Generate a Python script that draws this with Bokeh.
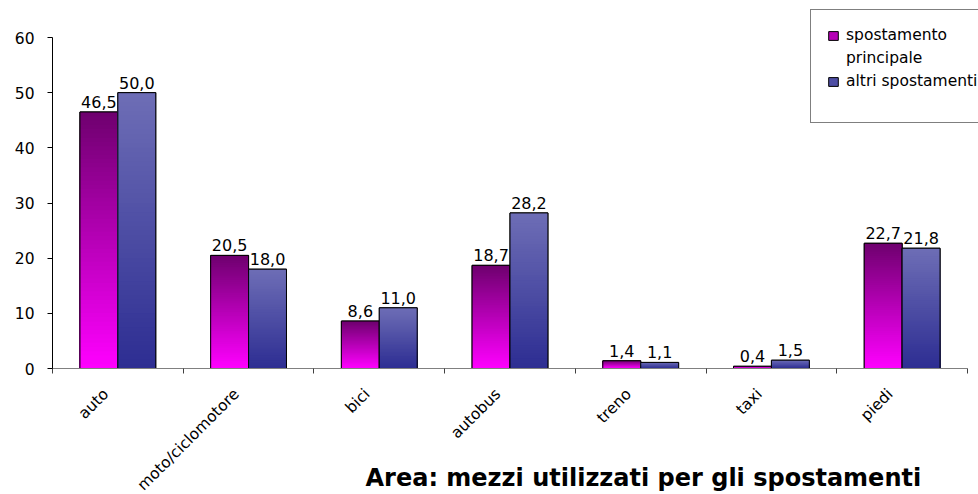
import math
from bokeh.plotting import figure
from bokeh.models import (ColumnDataSource, Range1d, FixedTicker, Legend, LegendItem, Label)
from bokeh.core.properties import value
from bokeh.embed import file_html
from bokeh.resources import INLINE

categories = ["auto", "moto/ciclomotore", "bici", "autobus", "treno", "taxi", "piedi"]
principale = [46.5, 20.5, 8.6, 18.7, 1.4, 0.4, 22.7]
altri = [50.0, 18.0, 11.0, 28.2, 1.1, 1.5, 21.8]
legend_lines = ["spostamento", "principale", "altri spostamenti"]
y_ticks = [0, 10, 20, 30, 40, 50, 60]
title_text = "Area: mezzi utilizzati per gli spostamenti"

FONT = "DejaVu Sans"
W, H = 978, 494
# pixel layout of the plotting area (canvas pixels)
AX_LEFT, AX_RIGHT, AX_TOP, AX_BOTTOM = 52, 967, 37, 368
N_CAT = len(categories)
Y_MAX = 60
BAR_W = 0.29
N_SLICES = 60
LABEL_SHIFT_PX = 12

sx = (AX_RIGHT - AX_LEFT) / N_CAT
sy = (AX_BOTTOM - AX_TOP) / Y_MAX
x_range = Range1d(-AX_LEFT / sx, (W - AX_LEFT) / sx)
y_range = Range1d(-(H - AX_BOTTOM) / sy, AX_BOTTOM / sy)

# gradient colours (top, bottom)
mag_top, mag_bot = (110, 0, 110), (255, 0, 255)
blu_top, blu_bot = (110, 110, 182), (45, 45, 146)


def hexcol(c):
    return "#%02x%02x%02x" % tuple(int(round(v)) for v in c)


def lerp(a, b, t):
    return tuple(a[i] + (b[i] - a[i]) * t for i in range(3))


p = figure(width=W, height=H, output_backend="svg", toolbar_location=None,
           x_range=x_range, y_range=y_range,
           min_border_left=0, min_border_right=0, min_border_top=0, min_border_bottom=0)
p.outline_line_color = None
p.xgrid.visible = False
p.ygrid.visible = False
p.background_fill_color = "white"
p.border_fill_color = "white"


def gradient_bars(vals, side, top_c, bot_c):
    lefts = [(i + 0.5 - BAR_W) if side < 0 else (i + 0.5) for i in range(len(vals))]
    rights = [x + BAR_W for x in lefts]
    # base bar (hidden under gradient, used by the legend)
    base = p.quad(left=lefts, right=rights, top=vals, bottom=[0] * len(vals),
                  fill_color=hexcol(lerp(bot_c, top_c, 0.5)), line_color="black", line_width=1)
    L, R, T, B, C = [], [], [], [], []
    for l, r, v in zip(lefts, rights, vals):
        for k in range(N_SLICES):
            t = (N_SLICES - k - 0.5) / N_SLICES  # 1 = top, 0 = bottom
            L.append(l); R.append(r); B.append(0); T.append(v * (1 - k / N_SLICES))
            C.append(hexcol(lerp(bot_c, top_c, t)))
    src = ColumnDataSource(dict(left=L, right=R, top=T, bottom=B, color=C))
    p.quad(left="left", right="right", top="top", bottom="bottom", source=src,
           fill_color="color", line_color=None)
    p.quad(left=lefts, right=rights, top=vals, bottom=[0] * len(vals),
           fill_color=None, line_color="black", line_width=1)
    centers = [(a + b) / 2 for a, b in zip(lefts, rights)]
    labels = [("%.1f" % v).replace(".", ",") for v in vals]
    p.text(x=centers, y=vals, text=labels, text_align="center", text_baseline="alphabetic",
           y_offset=-10, text_font=value(FONT), text_font_size="16px", text_color="black")
    return base


r1 = gradient_bars(principale, -1, mag_top, mag_bot)
r2 = gradient_bars(altri, 1, blu_top, blu_bot)
blank = p.quad(left=[0], right=[0], top=[0], bottom=[0], fill_alpha=0, line_alpha=0)

legend = Legend(items=[LegendItem(label=legend_lines[0], renderers=[r1]),
                       LegendItem(label=legend_lines[1], renderers=[blank]),
                       LegendItem(label=legend_lines[2], renderers=[r2]),
                       LegendItem(label=" ", renderers=[blank])],
                location=(810, H - 123))
legend.label_text_font = FONT
legend.label_text_font_size = "15.5px"
legend.label_text_color = "black"
legend.glyph_width = 12
legend.glyph_height = 11
legend.label_standoff = 7
legend.spacing = 5
legend.padding = 16
legend.margin = 0
legend.border_line_color = "black"
legend.border_line_width = 1
legend.background_fill_color = "white"
legend.background_fill_alpha = 1
p.add_layout(legend, "center")

# y axis
p.yaxis.fixed_location = 0
p.yaxis.bounds = (0, Y_MAX)
p.yaxis.ticker = FixedTicker(ticks=y_ticks)
p.yaxis.axis_line_color = "black"
p.yaxis.major_tick_line_color = "black"
p.yaxis.major_tick_out = 5
p.yaxis.major_tick_in = 0
p.yaxis.minor_tick_line_color = None
p.yaxis.major_label_text_font = FONT
p.yaxis.major_label_text_font_size = "15.5px"
p.yaxis.major_label_text_color = "black"
p.yaxis.major_label_standoff = 13

# x axis: labels near centres, tick marks at category boundaries
label_pos = [i + 0.5 - LABEL_SHIFT_PX / sx for i in range(N_CAT)]
p.xaxis.fixed_location = 0
p.xaxis.bounds = (0, N_CAT)
p.xaxis.ticker = FixedTicker(ticks=label_pos, minor_ticks=list(range(N_CAT + 1)))
p.xaxis.major_label_overrides = {c: n for c, n in zip(label_pos, categories)}
p.xaxis.major_tick_line_color = None
p.xaxis.minor_tick_line_color = "#404040"
p.xaxis.minor_tick_out = 5
p.xaxis.minor_tick_in = 0
p.xaxis.axis_line_color = "#808080"
p.xaxis.major_label_orientation = math.pi / 4
p.xaxis.major_label_text_font = FONT
p.xaxis.major_label_text_font_size = "15.5px"
p.xaxis.major_label_text_color = "black"
p.xaxis.major_label_standoff = 17

title = Label(x=365, y=17, x_units="screen", y_units="screen", text=title_text,
              text_font=FONT, text_font_size="24px", text_font_style="bold",
              text_baseline="alphabetic", text_color="black")
p.add_layout(title)

open("out.html", "w").write(file_html(p, INLINE))
